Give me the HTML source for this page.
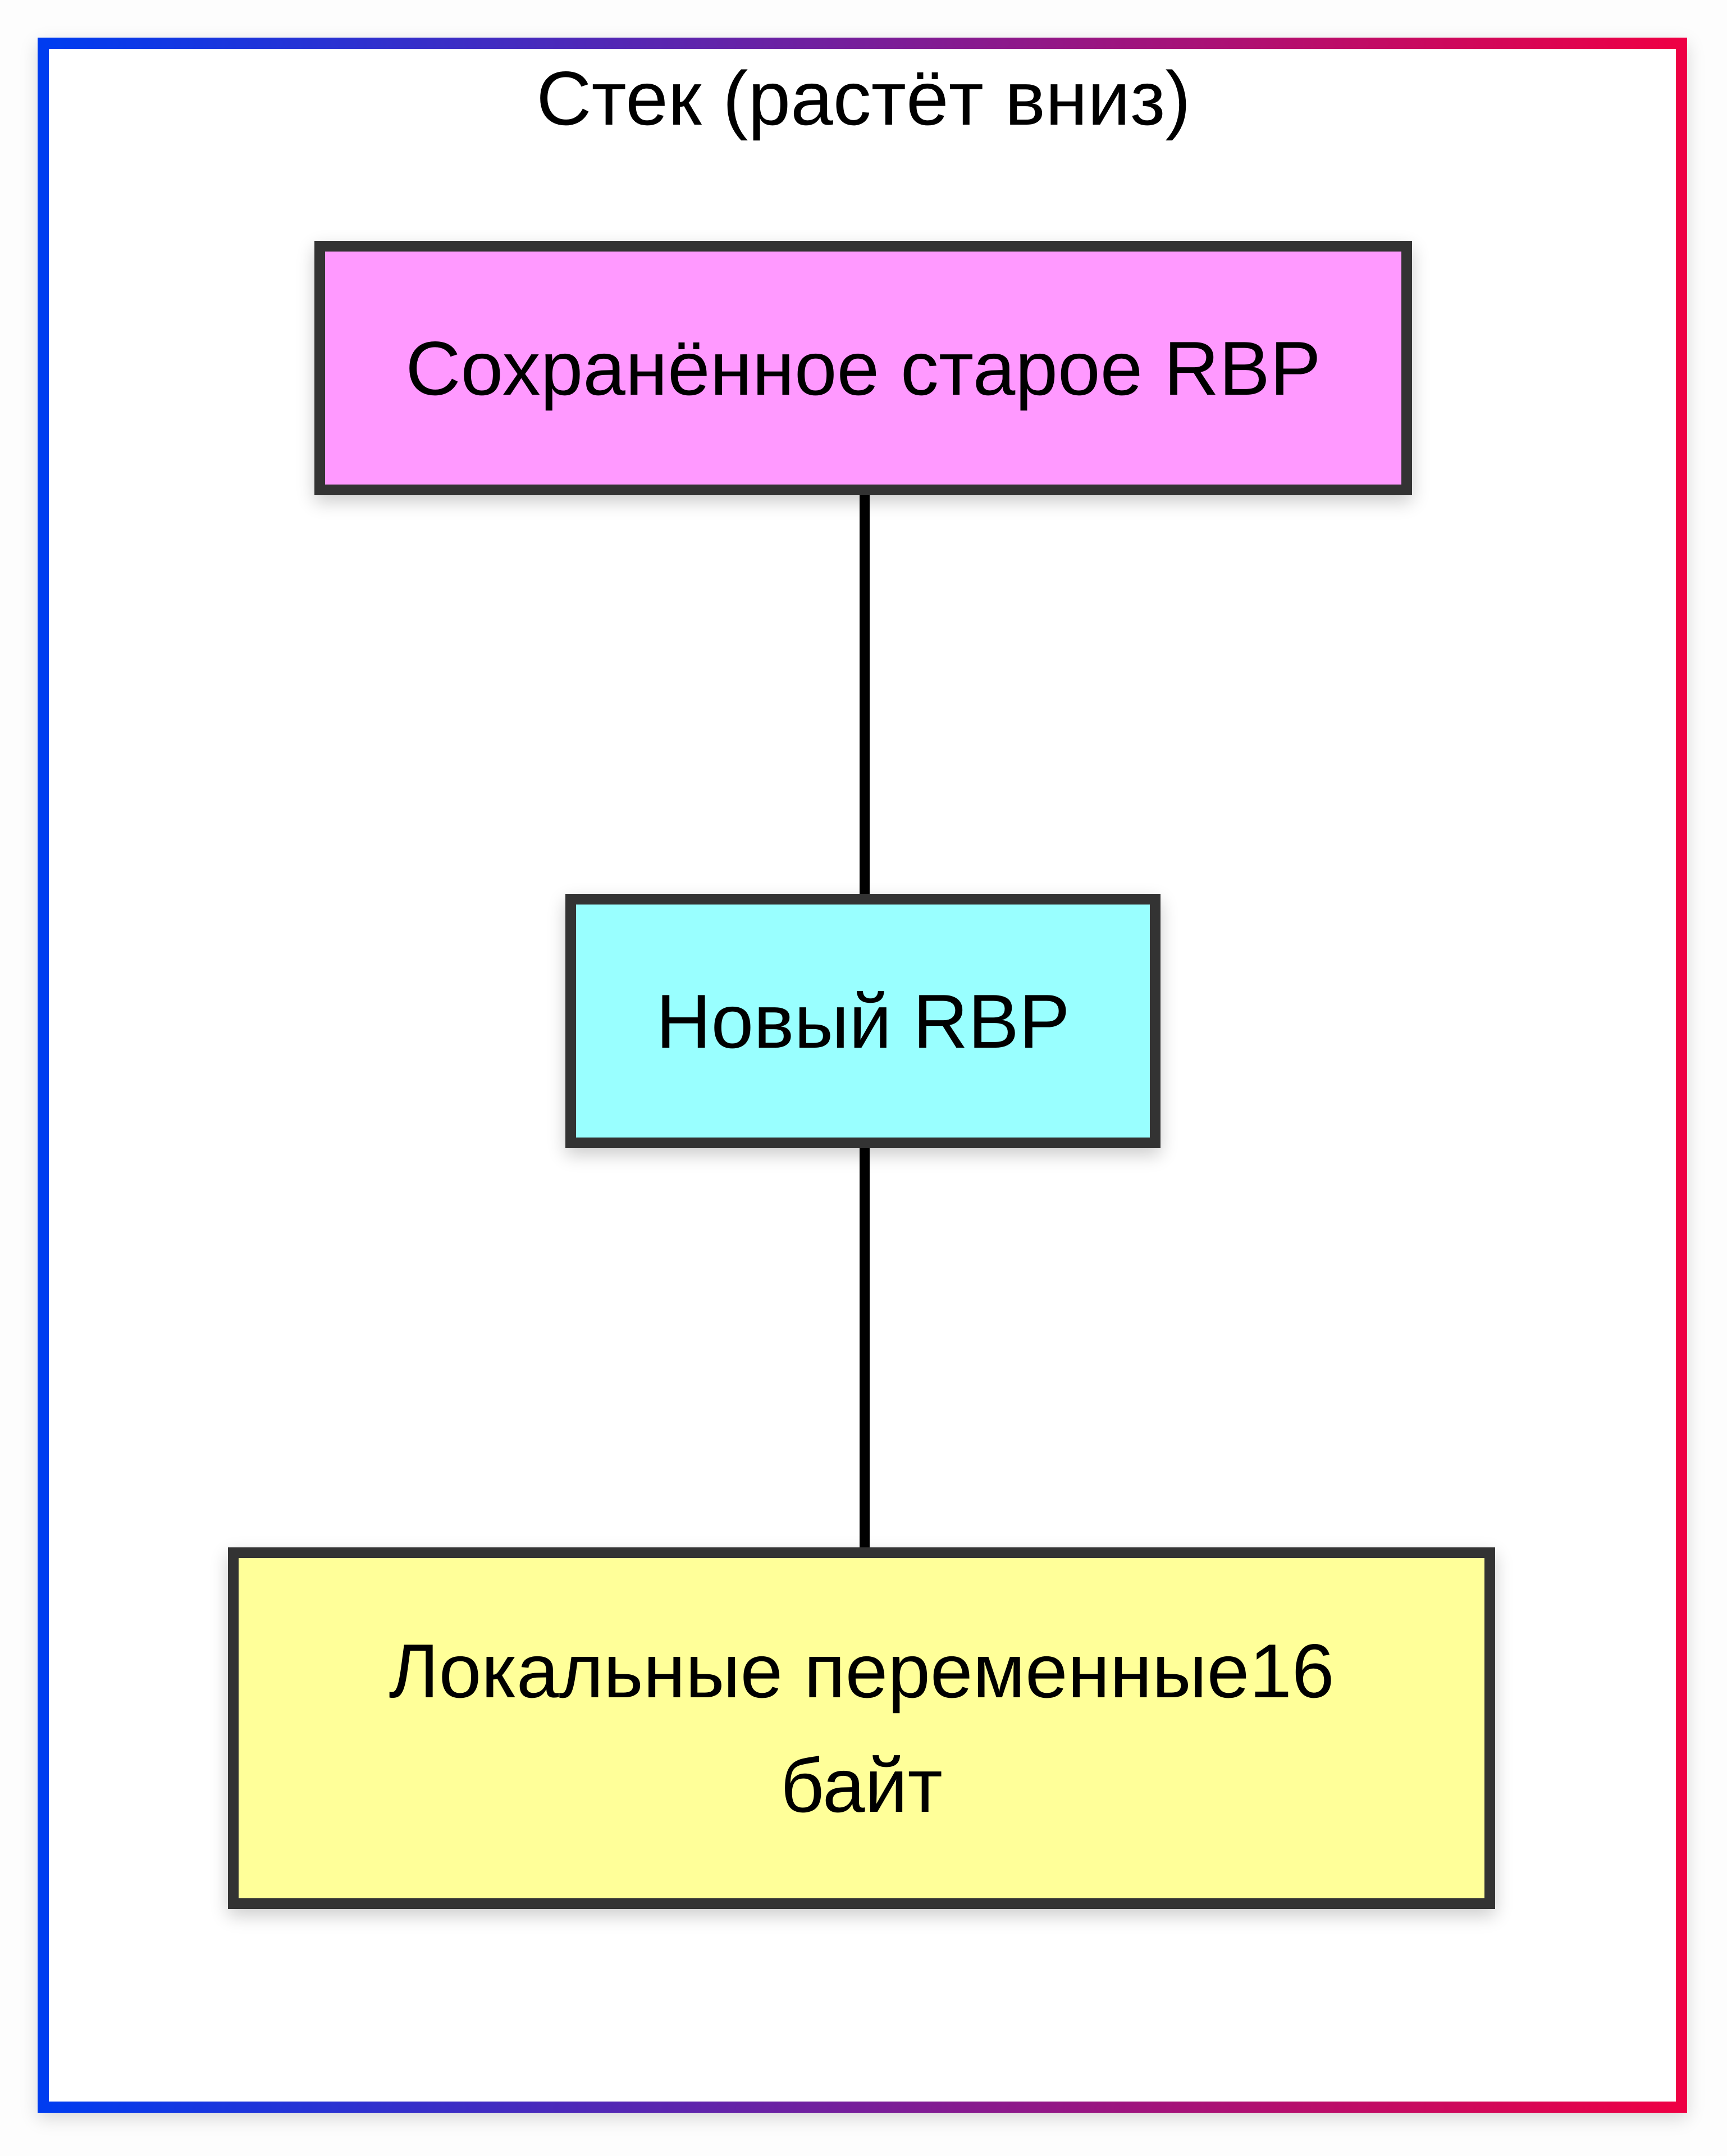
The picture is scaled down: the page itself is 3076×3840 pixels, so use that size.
<!DOCTYPE html>
<html><head><meta charset="utf-8"><style>
html,body{margin:0;padding:0;background:#fdfdfd;}
body{width:3076px;height:3840px;position:relative;overflow:hidden;font-family:"Liberation Sans","DejaVu Sans",sans-serif;}
.frame{position:absolute;left:67px;top:67px;width:2938px;height:3696px;box-sizing:border-box;border:20px solid transparent;background:#fff;background-clip:padding-box;
border-image:linear-gradient(90deg,#003cf0,#ee0044) 1;box-shadow:0 10px 30px rgba(0,0,0,0.15);}
.title{position:absolute;left:0;width:3076px;top:107px;text-align:center;font-size:136px;color:#000;line-height:136px;}
.box{position:absolute;box-sizing:border-box;border:19px solid #333;display:flex;align-items:center;justify-content:center;text-align:center;font-size:136px;line-height:204px;color:#000;box-shadow:0 12px 30px rgba(0,0,0,0.2);}
.line{position:absolute;left:1531px;width:18px;background:#000;}
</style></head><body>
<div class="frame"></div>
<div class="title">Стек (растёт вниз)</div>
<div class="line" style="top:870px;height:740px;"></div>
<div class="line" style="top:2030px;height:740px;"></div>
<div class="box" style="left:560px;top:429px;width:1955px;height:453px;background:#ff99ff;">Сохранённое старое RBP</div>
<div class="box" style="left:1007px;top:1592px;width:1060px;height:453px;background:#99ffff;">Новый RBP</div>
<div class="box" style="left:406px;top:2756px;width:2257px;height:644px;background:#ffff99;">Локальные переменные16<br>байт</div>
</body></html>
